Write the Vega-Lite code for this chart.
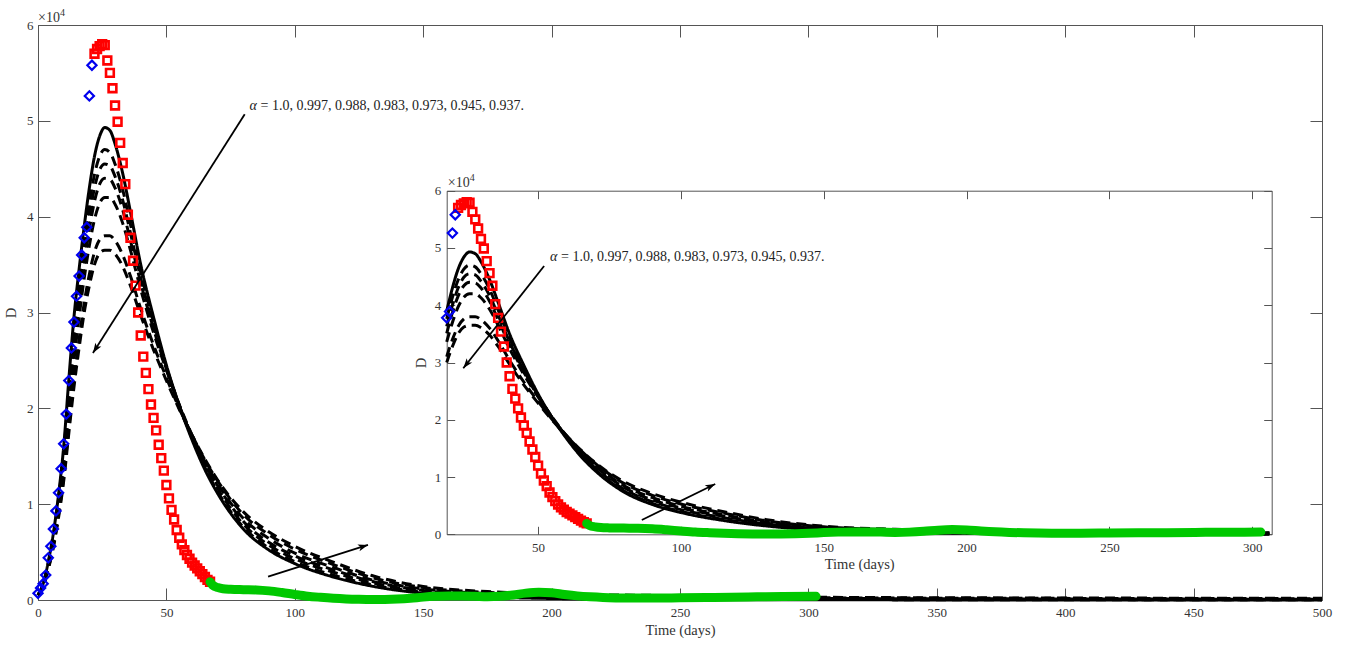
{
  "$schema": "https://vega.github.io/schema/vega-lite/v6.json",
  "width": 1284,
  "height": 575,
  "autosize": {"type": "none"},
  "padding": {"left": 38, "top": 25, "right": 27, "bottom": 45},
  "background": "white",
  "config": {
    "font": "Liberation Serif",
    "view": {"stroke": "#555555", "strokeWidth": 1},
    "axis": {
      "grid": false,
      "domainColor": "#555555",
      "tickColor": "#555555",
      "domainWidth": 1,
      "tickWidth": 1,
      "labelColor": "#333333",
      "titleColor": "#333333",
      "labelFont": "Liberation Serif",
      "titleFont": "Liberation Serif",
      "labelFontSize": 13,
      "titleFontSize": 14.5,
      "titleFontWeight": "normal",
      "labelFlush": false,
      "labelOverlap": false
    }
  },
  "datasets": {
    "model": [
      {"alpha":"1.0","day":0,"D":500},{"alpha":"1.0","day":2,"D":1700},{"alpha":"1.0","day":4,"D":4000},{"alpha":"1.0","day":6,"D":7000},{"alpha":"1.0","day":8,"D":11000},{"alpha":"1.0","day":10,"D":16000},{"alpha":"1.0","day":12,"D":23000},{"alpha":"1.0","day":14,"D":29500},{"alpha":"1.0","day":16,"D":34500},{"alpha":"1.0","day":18,"D":39000},{"alpha":"1.0","day":20,"D":43000},{"alpha":"1.0","day":22,"D":46300},{"alpha":"1.0","day":24,"D":48400},{"alpha":"1.0","day":26,"D":49300},{"alpha":"1.0","day":28,"D":49000},{"alpha":"1.0","day":30,"D":47600},{"alpha":"1.0","day":33,"D":44500},{"alpha":"1.0","day":36,"D":40500},{"alpha":"1.0","day":40,"D":35000},{"alpha":"1.0","day":45,"D":29500},{"alpha":"1.0","day":50,"D":24500},{"alpha":"1.0","day":55,"D":20300},{"alpha":"1.0","day":60,"D":16700},{"alpha":"1.0","day":65,"D":13600},{"alpha":"1.0","day":70,"D":11100},{"alpha":"1.0","day":80,"D":7400},{"alpha":"1.0","day":90,"D":5200},{"alpha":"1.0","day":100,"D":3800},{"alpha":"1.0","day":115,"D":2400},{"alpha":"1.0","day":130,"D":1450},{"alpha":"1.0","day":150,"D":700},{"alpha":"1.0","day":175,"D":320},{"alpha":"1.0","day":200,"D":160},{"alpha":"1.0","day":250,"D":50},{"alpha":"1.0","day":306,"D":20},{"alpha":"1.0","day":400,"D":5},{"alpha":"1.0","day":500,"D":2},
      {"alpha":"0.997","day":0,"D":500},{"alpha":"0.997","day":2,"D":1650},{"alpha":"0.997","day":4,"D":3800},{"alpha":"0.997","day":6,"D":6700},{"alpha":"0.997","day":8,"D":10500},{"alpha":"0.997","day":10,"D":15300},{"alpha":"0.997","day":12,"D":22000},{"alpha":"0.997","day":14,"D":28200},{"alpha":"0.997","day":16,"D":33200},{"alpha":"0.997","day":18,"D":37600},{"alpha":"0.997","day":20,"D":41400},{"alpha":"0.997","day":22,"D":44400},{"alpha":"0.997","day":24,"D":46300},{"alpha":"0.997","day":26,"D":47000},{"alpha":"0.997","day":28,"D":46700},{"alpha":"0.997","day":30,"D":45500},{"alpha":"0.997","day":33,"D":42800},{"alpha":"0.997","day":36,"D":39200},{"alpha":"0.997","day":40,"D":34200},{"alpha":"0.997","day":45,"D":29000},{"alpha":"0.997","day":50,"D":24300},{"alpha":"0.997","day":55,"D":20300},{"alpha":"0.997","day":60,"D":16900},{"alpha":"0.997","day":65,"D":13800},{"alpha":"0.997","day":70,"D":11300},{"alpha":"0.997","day":80,"D":7600},{"alpha":"0.997","day":90,"D":5400},{"alpha":"0.997","day":100,"D":4000},{"alpha":"0.997","day":115,"D":2600},{"alpha":"0.997","day":130,"D":1600},{"alpha":"0.997","day":150,"D":800},{"alpha":"0.997","day":175,"D":400},{"alpha":"0.997","day":200,"D":230},{"alpha":"0.997","day":250,"D":100},{"alpha":"0.997","day":306,"D":50},{"alpha":"0.997","day":400,"D":25},{"alpha":"0.997","day":500,"D":15},
      {"alpha":"0.988","day":0,"D":500},{"alpha":"0.988","day":2,"D":1600},{"alpha":"0.988","day":4,"D":3700},{"alpha":"0.988","day":6,"D":6500},{"alpha":"0.988","day":8,"D":10200},{"alpha":"0.988","day":10,"D":14800},{"alpha":"0.988","day":12,"D":21200},{"alpha":"0.988","day":14,"D":27200},{"alpha":"0.988","day":16,"D":32000},{"alpha":"0.988","day":18,"D":36300},{"alpha":"0.988","day":20,"D":40000},{"alpha":"0.988","day":22,"D":43000},{"alpha":"0.988","day":24,"D":44900},{"alpha":"0.988","day":26,"D":45500},{"alpha":"0.988","day":28,"D":45300},{"alpha":"0.988","day":30,"D":44200},{"alpha":"0.988","day":33,"D":41700},{"alpha":"0.988","day":36,"D":38300},{"alpha":"0.988","day":40,"D":33600},{"alpha":"0.988","day":45,"D":28600},{"alpha":"0.988","day":50,"D":24200},{"alpha":"0.988","day":55,"D":20300},{"alpha":"0.988","day":60,"D":17000},{"alpha":"0.988","day":65,"D":14000},{"alpha":"0.988","day":70,"D":11600},{"alpha":"0.988","day":80,"D":7900},{"alpha":"0.988","day":90,"D":5700},{"alpha":"0.988","day":100,"D":4300},{"alpha":"0.988","day":115,"D":2900},{"alpha":"0.988","day":130,"D":1800},{"alpha":"0.988","day":150,"D":900},{"alpha":"0.988","day":175,"D":480},{"alpha":"0.988","day":200,"D":300},{"alpha":"0.988","day":250,"D":150},{"alpha":"0.988","day":306,"D":80},{"alpha":"0.988","day":400,"D":45},{"alpha":"0.988","day":500,"D":30},
      {"alpha":"0.983","day":0,"D":500},{"alpha":"0.983","day":2,"D":1550},{"alpha":"0.983","day":4,"D":3600},{"alpha":"0.983","day":6,"D":6300},{"alpha":"0.983","day":8,"D":9900},{"alpha":"0.983","day":10,"D":14300},{"alpha":"0.983","day":12,"D":20400},{"alpha":"0.983","day":14,"D":26200},{"alpha":"0.983","day":16,"D":30900},{"alpha":"0.983","day":18,"D":35100},{"alpha":"0.983","day":20,"D":38700},{"alpha":"0.983","day":22,"D":41600},{"alpha":"0.983","day":24,"D":43400},{"alpha":"0.983","day":26,"D":44000},{"alpha":"0.983","day":28,"D":43900},{"alpha":"0.983","day":30,"D":43000},{"alpha":"0.983","day":33,"D":40700},{"alpha":"0.983","day":36,"D":37500},{"alpha":"0.983","day":40,"D":33100},{"alpha":"0.983","day":45,"D":28300},{"alpha":"0.983","day":50,"D":24100},{"alpha":"0.983","day":55,"D":20300},{"alpha":"0.983","day":60,"D":17100},{"alpha":"0.983","day":65,"D":14200},{"alpha":"0.983","day":70,"D":11900},{"alpha":"0.983","day":80,"D":8200},{"alpha":"0.983","day":90,"D":6000},{"alpha":"0.983","day":100,"D":4600},{"alpha":"0.983","day":115,"D":3150},{"alpha":"0.983","day":130,"D":1950},{"alpha":"0.983","day":150,"D":1000},{"alpha":"0.983","day":175,"D":570},{"alpha":"0.983","day":200,"D":370},{"alpha":"0.983","day":250,"D":190},{"alpha":"0.983","day":306,"D":110},{"alpha":"0.983","day":400,"D":70},{"alpha":"0.983","day":500,"D":50},
      {"alpha":"0.973","day":0,"D":500},{"alpha":"0.973","day":2,"D":1500},{"alpha":"0.973","day":4,"D":3500},{"alpha":"0.973","day":6,"D":6100},{"alpha":"0.973","day":8,"D":9500},{"alpha":"0.973","day":10,"D":13700},{"alpha":"0.973","day":12,"D":19500},{"alpha":"0.973","day":14,"D":25000},{"alpha":"0.973","day":16,"D":29500},{"alpha":"0.973","day":18,"D":33600},{"alpha":"0.973","day":20,"D":37000},{"alpha":"0.973","day":22,"D":39700},{"alpha":"0.973","day":24,"D":41400},{"alpha":"0.973","day":26,"D":42000},{"alpha":"0.973","day":28,"D":42000},{"alpha":"0.973","day":30,"D":41300},{"alpha":"0.973","day":33,"D":39300},{"alpha":"0.973","day":36,"D":36500},{"alpha":"0.973","day":40,"D":32400},{"alpha":"0.973","day":45,"D":27900},{"alpha":"0.973","day":50,"D":24000},{"alpha":"0.973","day":55,"D":20400},{"alpha":"0.973","day":60,"D":17200},{"alpha":"0.973","day":65,"D":14400},{"alpha":"0.973","day":70,"D":12100},{"alpha":"0.973","day":80,"D":8500},{"alpha":"0.973","day":90,"D":6400},{"alpha":"0.973","day":100,"D":4900},{"alpha":"0.973","day":115,"D":3400},{"alpha":"0.973","day":130,"D":2100},{"alpha":"0.973","day":150,"D":1150},{"alpha":"0.973","day":175,"D":680},{"alpha":"0.973","day":200,"D":450},{"alpha":"0.973","day":250,"D":260},{"alpha":"0.973","day":306,"D":160},{"alpha":"0.973","day":400,"D":110},{"alpha":"0.973","day":500,"D":80},
      {"alpha":"0.945","day":0,"D":500},{"alpha":"0.945","day":2,"D":1450},{"alpha":"0.945","day":4,"D":3300},{"alpha":"0.945","day":6,"D":5700},{"alpha":"0.945","day":8,"D":8900},{"alpha":"0.945","day":10,"D":12800},{"alpha":"0.945","day":12,"D":18000},{"alpha":"0.945","day":14,"D":23000},{"alpha":"0.945","day":16,"D":27200},{"alpha":"0.945","day":18,"D":31000},{"alpha":"0.945","day":20,"D":34000},{"alpha":"0.945","day":22,"D":36300},{"alpha":"0.945","day":24,"D":37600},{"alpha":"0.945","day":26,"D":38000},{"alpha":"0.945","day":28,"D":38000},{"alpha":"0.945","day":30,"D":37500},{"alpha":"0.945","day":33,"D":36000},{"alpha":"0.945","day":36,"D":33800},{"alpha":"0.945","day":40,"D":30400},{"alpha":"0.945","day":45,"D":26600},{"alpha":"0.945","day":50,"D":23200},{"alpha":"0.945","day":55,"D":20000},{"alpha":"0.945","day":60,"D":17200},{"alpha":"0.945","day":65,"D":14600},{"alpha":"0.945","day":70,"D":12400},{"alpha":"0.945","day":80,"D":8900},{"alpha":"0.945","day":90,"D":6800},{"alpha":"0.945","day":100,"D":5300},{"alpha":"0.945","day":115,"D":3700},{"alpha":"0.945","day":130,"D":2350},{"alpha":"0.945","day":150,"D":1300},{"alpha":"0.945","day":175,"D":800},{"alpha":"0.945","day":200,"D":580},{"alpha":"0.945","day":250,"D":360},{"alpha":"0.945","day":306,"D":230},{"alpha":"0.945","day":400,"D":170},{"alpha":"0.945","day":500,"D":140},
      {"alpha":"0.937","day":0,"D":500},{"alpha":"0.937","day":2,"D":1400},{"alpha":"0.937","day":4,"D":3200},{"alpha":"0.937","day":6,"D":5500},{"alpha":"0.937","day":8,"D":8600},{"alpha":"0.937","day":10,"D":12400},{"alpha":"0.937","day":12,"D":17400},{"alpha":"0.937","day":14,"D":22200},{"alpha":"0.937","day":16,"D":26300},{"alpha":"0.937","day":18,"D":30000},{"alpha":"0.937","day":20,"D":32800},{"alpha":"0.937","day":22,"D":35000},{"alpha":"0.937","day":24,"D":36200},{"alpha":"0.937","day":26,"D":36500},{"alpha":"0.937","day":28,"D":36500},{"alpha":"0.937","day":30,"D":36100},{"alpha":"0.937","day":33,"D":34800},{"alpha":"0.937","day":36,"D":32800},{"alpha":"0.937","day":40,"D":29700},{"alpha":"0.937","day":45,"D":26100},{"alpha":"0.937","day":50,"D":22900},{"alpha":"0.937","day":55,"D":19900},{"alpha":"0.937","day":60,"D":17200},{"alpha":"0.937","day":65,"D":14700},{"alpha":"0.937","day":70,"D":12500},{"alpha":"0.937","day":80,"D":9200},{"alpha":"0.937","day":90,"D":7100},{"alpha":"0.937","day":100,"D":5600},{"alpha":"0.937","day":115,"D":3950},{"alpha":"0.937","day":130,"D":2550},{"alpha":"0.937","day":150,"D":1420},{"alpha":"0.937","day":175,"D":880},{"alpha":"0.937","day":200,"D":650},{"alpha":"0.937","day":250,"D":450},{"alpha":"0.937","day":306,"D":280},{"alpha":"0.937","day":400,"D":210},{"alpha":"0.937","day":500,"D":180}
    ],
    "red": [
      {"day":22,"D":57000},{"day":23,"D":57500},{"day":24,"D":57800},{"day":25,"D":58000},{"day":26,"D":57900},{"day":27,"D":56300},{"day":28,"D":55000},{"day":29,"D":53400},{"day":30,"D":51600},{"day":31,"D":49900},{"day":32,"D":47700},{"day":33,"D":45600},{"day":34,"D":43400},{"day":35,"D":40200},{"day":36,"D":37800},{"day":37,"D":35400},{"day":38,"D":32800},{"day":39,"D":30000},{"day":40,"D":27600},{"day":41,"D":25400},{"day":42,"D":23700},{"day":43,"D":22000},{"day":44,"D":20400},{"day":45,"D":19000},{"day":46,"D":17700},{"day":47,"D":16200},{"day":48,"D":14800},{"day":49,"D":13500},{"day":50,"D":12000},{"day":51,"D":10600},{"day":52,"D":9400},{"day":53,"D":8400},{"day":54,"D":7300},{"day":55,"D":6500},{"day":56,"D":5800},{"day":57,"D":5200},{"day":58,"D":4700},{"day":59,"D":4300},{"day":60,"D":3900},{"day":61,"D":3600},{"day":62,"D":3300},{"day":63,"D":3000},{"day":64,"D":2700},{"day":65,"D":2400},{"day":66,"D":2100},{"day":67,"D":1900}
    ],
    "blue": [
      {"day":0,"D":700},{"day":1,"D":1250},{"day":2,"D":1700},{"day":3,"D":2600},{"day":4,"D":4400},{"day":5,"D":5600},{"day":6,"D":7400},{"day":7,"D":9300},{"day":8,"D":11200},{"day":9,"D":13700},{"day":10,"D":16300},{"day":11,"D":19400},{"day":12,"D":22900},{"day":13,"D":26300},{"day":14,"D":29000},{"day":15,"D":31700},{"day":16,"D":33800},{"day":17,"D":36000},{"day":18,"D":37800},{"day":19,"D":38900},{"day":20,"D":52600},{"day":21,"D":55800}
    ],
    "green": [
      {"day":67,"D":1900},{"day":68,"D":1550},{"day":70,"D":1300},{"day":72,"D":1180},{"day":75,"D":1120},{"day":80,"D":1080},{"day":85,"D":1050},{"day":90,"D":950},{"day":95,"D":780},{"day":100,"D":580},{"day":105,"D":400},{"day":110,"D":280},{"day":115,"D":180},{"day":120,"D":110},{"day":125,"D":70},{"day":130,"D":50},{"day":135,"D":60},{"day":140,"D":100},{"day":145,"D":180},{"day":150,"D":300},{"day":155,"D":380},{"day":160,"D":420},{"day":165,"D":420},{"day":170,"D":380},{"day":175,"D":330},{"day":180,"D":380},{"day":185,"D":520},{"day":190,"D":720},{"day":195,"D":820},{"day":200,"D":760},{"day":205,"D":580},{"day":210,"D":430},{"day":215,"D":330},{"day":220,"D":260},{"day":225,"D":220},{"day":230,"D":200},{"day":240,"D":200},{"day":250,"D":230},{"day":260,"D":260},{"day":270,"D":290},{"day":280,"D":330},{"day":290,"D":370},{"day":303,"D":380}
    ],
    "arrows": [
      {"panel":"main","id":"a1","day":80.5,"D":50680,"day2":21.4,"D2":25780},
      {"panel":"main","id":"a2","day":89.6,"D":2435,"day2":128.5,"D2":5750},
      {"panel":"inset","id":"b1","day":52.1,"D":46850,"day2":23.8,"D2":28990},
      {"panel":"inset","id":"b2","day":86.3,"D":2500,"day2":112.0,"D2":8780}
    ],
    "notes": [
      {"panel":"main","day":82.4,"D":51550},
      {"panel":"inset","day":54.2,"D":48480}
    ],
    "exponents": [
      {"panel":"main","day":0,"D":60700},
      {"panel":"inset","day":18.4,"D":61420}
    ]
  },
  "layer": [
    {
      "layer": [
        {
          "data": {"name": "model"},
          "mark": {"type": "line", "color": "black", "strokeWidth": 3, "interpolate": "monotone"},
          "encoding": {
            "x": {"field": "day", "type": "quantitative", "scale": {"domain": [0, 500], "nice": false, "zero": false}, "axis": null},
            "y": {"field": "D", "type": "quantitative", "scale": {"domain": [0, 60000], "nice": false, "zero": false}, "axis": null},
            "strokeDash": {"field": "alpha", "type": "nominal", "legend": null,
                           "scale": {"domain": ["1.0","0.997","0.988","0.983","0.973","0.945","0.937"],
                                     "range": [[1,0],[10,6],[10,6],[10,6],[10,6],[10,6],[10,6]]}}
          }
        },
        {
          "data": {"name": "red"},
          "mark": {"type": "point", "shape": "square", "filled": false, "color": "#ff0000", "size": 60, "strokeWidth": 2.6, "opacity": 1},
          "encoding": {
            "x": {"field": "day", "type": "quantitative", "scale": {"domain": [0, 500], "nice": false, "zero": false}, "axis": null},
            "y": {"field": "D", "type": "quantitative", "scale": {"domain": [0, 60000], "nice": false, "zero": false}, "axis": null}
          }
        },
        {
          "data": {"name": "blue"},
          "mark": {"type": "point", "shape": "diamond", "filled": false, "color": "#0000ee", "size": 85, "strokeWidth": 2.2, "opacity": 1},
          "encoding": {
            "x": {"field": "day", "type": "quantitative", "scale": {"domain": [0, 500], "nice": false, "zero": false}, "axis": null},
            "y": {"field": "D", "type": "quantitative", "scale": {"domain": [0, 60000], "nice": false, "zero": false}, "axis": null}
          }
        },
        {
          "data": {"name": "green"},
          "mark": {"type": "line", "color": "#00c800", "strokeWidth": 9, "strokeCap": "round", "interpolate": "monotone"},
          "encoding": {
            "x": {"field": "day", "type": "quantitative", "scale": {"domain": [0, 500], "nice": false, "zero": false}, "axis": null},
            "y": {"field": "D", "type": "quantitative", "scale": {"domain": [0, 60000], "nice": false, "zero": false}, "axis": null}
          }
        },
        {
          "data": {"name": "arrows"},
          "transform": [{"filter": "datum.panel === 'main'"}],
          "mark": {"type": "rule", "color": "black", "strokeWidth": 1.8},
          "encoding": {
            "x": {"field": "day", "type": "quantitative", "scale": {"domain": [0, 500], "nice": false, "zero": false}, "axis": null},
            "y": {"field": "D", "type": "quantitative", "scale": {"domain": [0, 60000], "nice": false, "zero": false}, "axis": null},
            "x2": {"field": "day2"},
            "y2": {"field": "D2"}
          }
        },
        {
          "data": {"name": "arrows"},
          "transform": [{"filter": "datum.id === 'a1'"}],
          "mark": {"type": "point", "shape": "M0,0L0.7,2L0,1.5L-0.7,2Z", "size": 100, "filled": true, "color": "black", "opacity": 1, "angle": 212.5},
          "encoding": {
            "x": {"field": "day2", "type": "quantitative", "scale": {"domain": [0, 500], "nice": false, "zero": false}, "axis": null},
            "y": {"field": "D2", "type": "quantitative", "scale": {"domain": [0, 60000], "nice": false, "zero": false}, "axis": null}
          }
        },
        {
          "data": {"name": "arrows"},
          "transform": [{"filter": "datum.id === 'a2'"}],
          "mark": {"type": "point", "shape": "M0,0L0.7,2L0,1.5L-0.7,2Z", "size": 100, "filled": true, "color": "black", "opacity": 1, "angle": 72.4},
          "encoding": {
            "x": {"field": "day2", "type": "quantitative", "scale": {"domain": [0, 500], "nice": false, "zero": false}, "axis": null},
            "y": {"field": "D2", "type": "quantitative", "scale": {"domain": [0, 60000], "nice": false, "zero": false}, "axis": null}
          }
        },
        {
          "data": {"name": "notes"},
          "transform": [{"filter": "datum.panel === 'main'"}],
          "mark": {"type": "text", "text": "α", "fontStyle": "italic", "fontSize": 14, "align": "left", "baseline": "middle", "color": "#222222"},
          "encoding": {
            "x": {"field": "day", "type": "quantitative", "scale": {"domain": [0, 500], "nice": false, "zero": false}, "axis": null},
            "y": {"field": "D", "type": "quantitative", "scale": {"domain": [0, 60000], "nice": false, "zero": false}, "axis": null}
          }
        },
        {
          "data": {"name": "notes"},
          "transform": [{"filter": "datum.panel === 'main'"}],
          "mark": {"type": "text", "text": "= 1.0,  0.997, 0.988, 0.983, 0.973, 0.945, 0.937.", "dx": 11, "fontSize": 14, "align": "left", "baseline": "middle", "color": "#222222"},
          "encoding": {
            "x": {"field": "day", "type": "quantitative", "scale": {"domain": [0, 500], "nice": false, "zero": false}, "axis": null},
            "y": {"field": "D", "type": "quantitative", "scale": {"domain": [0, 60000], "nice": false, "zero": false}, "axis": null}
          }
        },
        {
          "data": {"name": "exponents"},
          "transform": [{"filter": "datum.panel === 'main'"}],
          "mark": {"type": "text", "text": "×10", "fontSize": 14, "align": "left", "baseline": "middle", "color": "#333333"},
          "encoding": {
            "x": {"field": "day", "type": "quantitative", "scale": {"domain": [0, 500], "nice": false, "zero": false}, "axis": null},
            "y": {"field": "D", "type": "quantitative", "scale": {"domain": [0, 60000], "nice": false, "zero": false}, "axis": null}
          }
        },
        {
          "data": {"name": "exponents"},
          "transform": [{"filter": "datum.panel === 'main'"}],
          "mark": {"type": "text", "text": "4", "fontSize": 10, "dx": 22, "dy": -5, "align": "left", "baseline": "middle", "color": "#333333"},
          "encoding": {
            "x": {"field": "day", "type": "quantitative", "scale": {"domain": [0, 500], "nice": false, "zero": false}, "axis": null},
            "y": {"field": "D", "type": "quantitative", "scale": {"domain": [0, 60000], "nice": false, "zero": false}, "axis": null}
          }
        }
      ]
    },
    {
      "data": {"name": "notes"},
      "mark": {"type": "point", "opacity": 0},
      "encoding": {
        "x": {"field": "day", "type": "quantitative", "scale": {"domain": [0, 500], "nice": false, "zero": false},
              "axis": {"orient": "bottom", "title": "Time (days)", "values": [0,50,100,150,200,250,300,350,400,450,500], "tickSize": -12, "labelPadding": 18, "titlePadding": 4}},
        "y": {"field": "D", "type": "quantitative", "scale": {"domain": [0, 60000], "nice": false, "zero": false},
              "axis": {"orient": "left", "title": "D", "values": [0,10000,20000,30000,40000,50000,60000], "labelExpr": "datum.value / 10000", "tickSize": -12, "labelPadding": 17, "titlePadding": 8}}
      }
    },
    {
      "data": {"name": "notes"},
      "mark": {"type": "point", "opacity": 0},
      "encoding": {
        "x": {"field": "day", "type": "quantitative", "scale": {"domain": [0, 500], "nice": false, "zero": false},
              "axis": {"orient": "top", "title": null, "labels": false, "domain": false, "tickSize": -12, "values": [0,50,100,150,200,250,300,350,400,450,500]}},
        "y": {"field": "D", "type": "quantitative", "scale": {"domain": [0, 60000], "nice": false, "zero": false},
              "axis": {"orient": "right", "title": null, "labels": false, "domain": false, "tickSize": -12, "values": [0,10000,20000,30000,40000,50000,60000]}}
      }
    },
    {
      "layer": [
        {
          "data": {"name": "model"},
          "transform": [{"filter": "datum.day >= 18 && datum.day <= 306.8"}],
          "mark": {"type": "line", "color": "black", "strokeWidth": 3, "interpolate": "monotone"},
          "encoding": {
            "x": {"field": "day", "type": "quantitative", "scale": {"domain": [18, 306.8], "range": [408.7, 1233.7], "nice": false, "zero": false}, "axis": null},
            "y": {"field": "D", "type": "quantitative", "scale": {"domain": [0, 60000], "range": [509.3, 165.7], "nice": false, "zero": false}, "axis": null},
            "strokeDash": {"field": "alpha", "type": "nominal", "legend": null,
                           "scale": {"domain": ["1.0","0.997","0.988","0.983","0.973","0.945","0.937"],
                                     "range": [[1,0],[10,6],[10,6],[10,6],[10,6],[10,6],[10,6]]}}
          }
        },
        {
          "data": {"name": "red"},
          "mark": {"type": "point", "shape": "square", "filled": false, "color": "#ff0000", "size": 60, "strokeWidth": 2.6, "opacity": 1},
          "encoding": {
            "x": {"field": "day", "type": "quantitative", "scale": {"domain": [18, 306.8], "range": [408.7, 1233.7], "nice": false, "zero": false}, "axis": null},
            "y": {"field": "D", "type": "quantitative", "scale": {"domain": [0, 60000], "range": [509.3, 165.7], "nice": false, "zero": false}, "axis": null}
          }
        },
        {
          "data": {"name": "blue"},
          "transform": [{"filter": "datum.day >= 18"}],
          "mark": {"type": "point", "shape": "diamond", "filled": false, "color": "#0000ee", "size": 85, "strokeWidth": 2.2, "opacity": 1},
          "encoding": {
            "x": {"field": "day", "type": "quantitative", "scale": {"domain": [18, 306.8], "range": [408.7, 1233.7], "nice": false, "zero": false}, "axis": null},
            "y": {"field": "D", "type": "quantitative", "scale": {"domain": [0, 60000], "range": [509.3, 165.7], "nice": false, "zero": false}, "axis": null}
          }
        },
        {
          "data": {"name": "green"},
          "mark": {"type": "line", "color": "#00c800", "strokeWidth": 9, "strokeCap": "round", "interpolate": "monotone"},
          "encoding": {
            "x": {"field": "day", "type": "quantitative", "scale": {"domain": [18, 306.8], "range": [408.7, 1233.7], "nice": false, "zero": false}, "axis": null},
            "y": {"field": "D", "type": "quantitative", "scale": {"domain": [0, 60000], "range": [509.3, 165.7], "nice": false, "zero": false}, "axis": null}
          }
        },
        {
          "data": {"name": "arrows"},
          "transform": [{"filter": "datum.panel === 'inset'"}],
          "mark": {"type": "rule", "color": "black", "strokeWidth": 1.8},
          "encoding": {
            "x": {"field": "day", "type": "quantitative", "scale": {"domain": [18, 306.8], "range": [408.7, 1233.7], "nice": false, "zero": false}, "axis": null},
            "y": {"field": "D", "type": "quantitative", "scale": {"domain": [0, 60000], "range": [509.3, 165.7], "nice": false, "zero": false}, "axis": null},
            "x2": {"field": "day2"},
            "y2": {"field": "D2"}
          }
        },
        {
          "data": {"name": "arrows"},
          "transform": [{"filter": "datum.id === 'b1'"}],
          "mark": {"type": "point", "shape": "M0,0L0.7,2L0,1.5L-0.7,2Z", "size": 100, "filled": true, "color": "black", "opacity": 1, "angle": 218.3},
          "encoding": {
            "x": {"field": "day2", "type": "quantitative", "scale": {"domain": [18, 306.8], "range": [408.7, 1233.7], "nice": false, "zero": false}, "axis": null},
            "y": {"field": "D2", "type": "quantitative", "scale": {"domain": [0, 60000], "range": [509.3, 165.7], "nice": false, "zero": false}, "axis": null}
          }
        },
        {
          "data": {"name": "arrows"},
          "transform": [{"filter": "datum.id === 'b2'"}],
          "mark": {"type": "point", "shape": "M0,0L0.7,2L0,1.5L-0.7,2Z", "size": 100, "filled": true, "color": "black", "opacity": 1, "angle": 63.8},
          "encoding": {
            "x": {"field": "day2", "type": "quantitative", "scale": {"domain": [18, 306.8], "range": [408.7, 1233.7], "nice": false, "zero": false}, "axis": null},
            "y": {"field": "D2", "type": "quantitative", "scale": {"domain": [0, 60000], "range": [509.3, 165.7], "nice": false, "zero": false}, "axis": null}
          }
        },
        {
          "data": {"name": "notes"},
          "transform": [{"filter": "datum.panel === 'inset'"}],
          "mark": {"type": "text", "text": "α", "fontStyle": "italic", "fontSize": 14, "align": "left", "baseline": "middle", "color": "#222222"},
          "encoding": {
            "x": {"field": "day", "type": "quantitative", "scale": {"domain": [18, 306.8], "range": [408.7, 1233.7], "nice": false, "zero": false}, "axis": null},
            "y": {"field": "D", "type": "quantitative", "scale": {"domain": [0, 60000], "range": [509.3, 165.7], "nice": false, "zero": false}, "axis": null}
          }
        },
        {
          "data": {"name": "notes"},
          "transform": [{"filter": "datum.panel === 'inset'"}],
          "mark": {"type": "text", "text": "= 1.0,  0.997, 0.988, 0.983, 0.973, 0.945, 0.937.", "dx": 11, "fontSize": 14, "align": "left", "baseline": "middle", "color": "#222222"},
          "encoding": {
            "x": {"field": "day", "type": "quantitative", "scale": {"domain": [18, 306.8], "range": [408.7, 1233.7], "nice": false, "zero": false}, "axis": null},
            "y": {"field": "D", "type": "quantitative", "scale": {"domain": [0, 60000], "range": [509.3, 165.7], "nice": false, "zero": false}, "axis": null}
          }
        },
        {
          "data": {"name": "exponents"},
          "transform": [{"filter": "datum.panel === 'inset'"}],
          "mark": {"type": "text", "text": "×10", "fontSize": 14, "align": "left", "baseline": "middle", "color": "#333333"},
          "encoding": {
            "x": {"field": "day", "type": "quantitative", "scale": {"domain": [18, 306.8], "range": [408.7, 1233.7], "nice": false, "zero": false}, "axis": null},
            "y": {"field": "D", "type": "quantitative", "scale": {"domain": [0, 60000], "range": [509.3, 165.7], "nice": false, "zero": false}, "axis": null}
          }
        },
        {
          "data": {"name": "exponents"},
          "transform": [{"filter": "datum.panel === 'inset'"}],
          "mark": {"type": "text", "text": "4", "fontSize": 10, "dx": 22, "dy": -5, "align": "left", "baseline": "middle", "color": "#333333"},
          "encoding": {
            "x": {"field": "day", "type": "quantitative", "scale": {"domain": [18, 306.8], "range": [408.7, 1233.7], "nice": false, "zero": false}, "axis": null},
            "y": {"field": "D", "type": "quantitative", "scale": {"domain": [0, 60000], "range": [509.3, 165.7], "nice": false, "zero": false}, "axis": null}
          }
        }
      ]
    },
    {
      "data": {"name": "notes"},
      "mark": {"type": "point", "opacity": 0},
      "encoding": {
        "x": {"field": "day", "type": "quantitative", "scale": {"domain": [18, 306.8], "range": [408.7, 1233.7], "nice": false, "zero": false},
              "axis": {"orient": "bottom", "offset": -65.7, "title": "Time (days)", "values": [50,100,150,200,250,300], "tickSize": -8, "labelPadding": 15, "titlePadding": 3}},
        "y": {"field": "D", "type": "quantitative", "scale": {"domain": [0, 60000], "range": [509.3, 165.7], "nice": false, "zero": false},
              "axis": {"orient": "left", "offset": -408.7, "title": "D", "values": [0,10000,20000,30000,40000,50000,60000], "labelExpr": "datum.value / 10000", "tickSize": -8, "labelPadding": 14, "titlePadding": 6}}
      }
    },
    {
      "data": {"name": "notes"},
      "mark": {"type": "point", "opacity": 0},
      "encoding": {
        "x": {"field": "day", "type": "quantitative", "scale": {"domain": [18, 306.8], "range": [408.7, 1233.7], "nice": false, "zero": false},
              "axis": {"orient": "top", "offset": -165.7, "title": null, "labels": false, "tickSize": -8, "values": [50,100,150,200,250,300]}},
        "y": {"field": "D", "type": "quantitative", "scale": {"domain": [0, 60000], "range": [509.3, 165.7], "nice": false, "zero": false},
              "axis": {"orient": "right", "offset": -50.3, "title": null, "labels": false, "tickSize": -8, "values": [0,10000,20000,30000,40000,50000,60000]}}
      }
    }
  ],
  "resolve": {"scale": {"x": "independent", "y": "independent"}, "axis": {"x": "independent", "y": "independent"}}
}
